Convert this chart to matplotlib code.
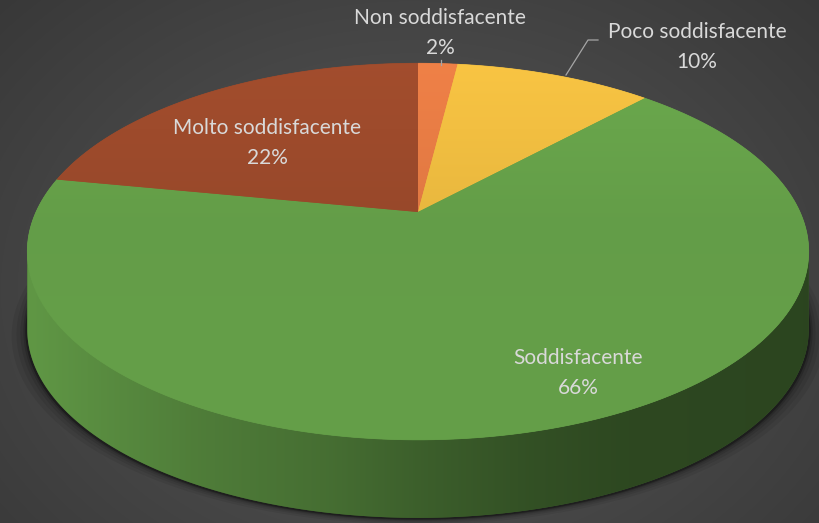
import numpy as np
import matplotlib
matplotlib.use("Agg")
import matplotlib.pyplot as plt
from matplotlib.patches import Polygon
from matplotlib.colors import to_rgb

# data
labels = ["Non soddisfacente", "Poco soddisfacente", "Soddisfacente", "Molto soddisfacente"]
values = [2, 10, 66, 22]
colors = ["#E97D45", "#F2BF41", "#68A44B", "#9E4B2C"]

# label anchor points (pixel coords) for each slice
label_pos = [(440, 18), (697, 32), (578, 358), (267, 128)]

W, H = 820, 523
CX, CY = 418, 212         # apex of the slices
A, B, K = 382, 180, 0.21  # ellipse size and perspective
DEPTH = 78

# side wall darkening across the width
shade_x = [30, 200, 330, 420, 530, 620, 810]
shade_f = [0.92, 0.76, 0.67, 0.58, 0.49, 0.44, 0.42]


def project(t, dy=0.0):
    d = 1 + K * np.sin(t)
    return CX + A * np.cos(t) / d, CY - B * np.sin(t) / d + dy


fig = plt.figure(figsize=(W / 100, H / 100), dpi=100)
ax = fig.add_axes([0, 0, 1, 1])
ax.set_xlim(0, W)
ax.set_ylim(H, 0)
ax.axis("off")

# radial background
yy, xx = np.mgrid[0:H, 0:W]
r = np.hypot(xx - 410, (yy - 290) * 1.3) / 560
bg = np.clip(0.35 - 0.13 * r, 0, 1)
ax.imshow(np.dstack([bg, bg, bg]), extent=[0, W, H, 0], zorder=0, aspect="auto")

# soft shadow under the pie
ts = np.linspace(0, 2 * np.pi, 400)
for grow, al in [(16, 0.07), (11, 0.08), (7, 0.1), (4, 0.15), (2, 0.3)]:
    sx, sy = project(ts, DEPTH)
    sx = CX + (sx - CX) * (1 + grow / 400)
    sy = sy + grow * 0.35 + 1
    ax.add_patch(Polygon(np.column_stack([sx, sy]), closed=True,
                         facecolor="black", edgecolor="none", alpha=al, zorder=1))

# slice angles: start at top, clockwise
fracs = np.array(values, dtype=float) / sum(values)
bounds = np.pi / 2 - 2 * np.pi * np.concatenate([[0], np.cumsum(fracs)])

# visible part of the side wall (between the silhouette points)
vis_lo = -np.pi + np.arcsin(K)
vis_hi = -np.arcsin(K)

gx = np.linspace(0, W, W)
fx = np.interp(gx, shade_x, shade_f)
for i, c in enumerate(colors):
    hi, lo = bounds[i], bounds[i + 1]
    for off in (0, -2 * np.pi, 2 * np.pi):
        a = min(hi + off, vis_hi)
        b = max(lo + off, vis_lo)
        if a <= b:
            continue
        ts = np.linspace(a, b, 300)
        px, py = project(ts)
        pts = np.vstack([np.column_stack([px, py]),
                         np.column_stack([px[::-1], py[::-1] + DEPTH])])
        rgb = np.array(to_rgb(c))
        img = np.clip(fx[None, :, None] * rgb[None, None, :], 0, 1)
        base = tuple(rgb * np.interp(px.mean(), shade_x, shade_f))
        poly = Polygon(pts, closed=True, facecolor=base, edgecolor="none", zorder=2)
        ax.add_patch(poly)
        im = ax.imshow(img, extent=[0, W, H, 0], aspect="auto", zorder=2.1,
                       interpolation="bilinear")
        im.set_clip_path(poly)

# top faces with a slight vertical gradient
gy = np.arange(H)
fy = np.interp(gy, [60, 220, 440], [1.03, 0.96, 0.97])
for i, c in enumerate(colors):
    ts = np.linspace(bounds[i], bounds[i + 1], 200)
    px, py = project(ts)
    pts = np.vstack([[CX, CY], np.column_stack([px, py])])
    rgb = np.array(to_rgb(c))
    poly = Polygon(pts, closed=True, facecolor=c, edgecolor=c, linewidth=0.5, zorder=3)
    ax.add_patch(poly)
    img = np.clip(fy[:, None, None] * rgb[None, None, :], 0, 1)
    img = np.repeat(img, 4, axis=1)
    im = ax.imshow(img, extent=[0, W, H, 0], aspect="auto", zorder=3.1,
                   interpolation="bilinear")
    im.set_clip_path(poly)

# labels
txt_color = "#D9D9D9"
for lab, v, (lx, ly) in zip(labels, values, label_pos):
    ax.text(lx, ly, lab, ha="center", va="center", color=txt_color,
            fontsize=15, family="Lato", zorder=5)
    ax.text(lx, ly + 30, f"{v}%", ha="center", va="center", color=txt_color,
            fontsize=15, family="Lato", zorder=5)

# leader lines
ax.plot([566, 588, 598], [75, 40, 40], color="#A6A6A6", linewidth=0.9, zorder=4)
ax.plot([441, 441], [60, 65], color="#A6A6A6", linewidth=0.9, zorder=4)

fig.savefig("out.png", dpi=100)
